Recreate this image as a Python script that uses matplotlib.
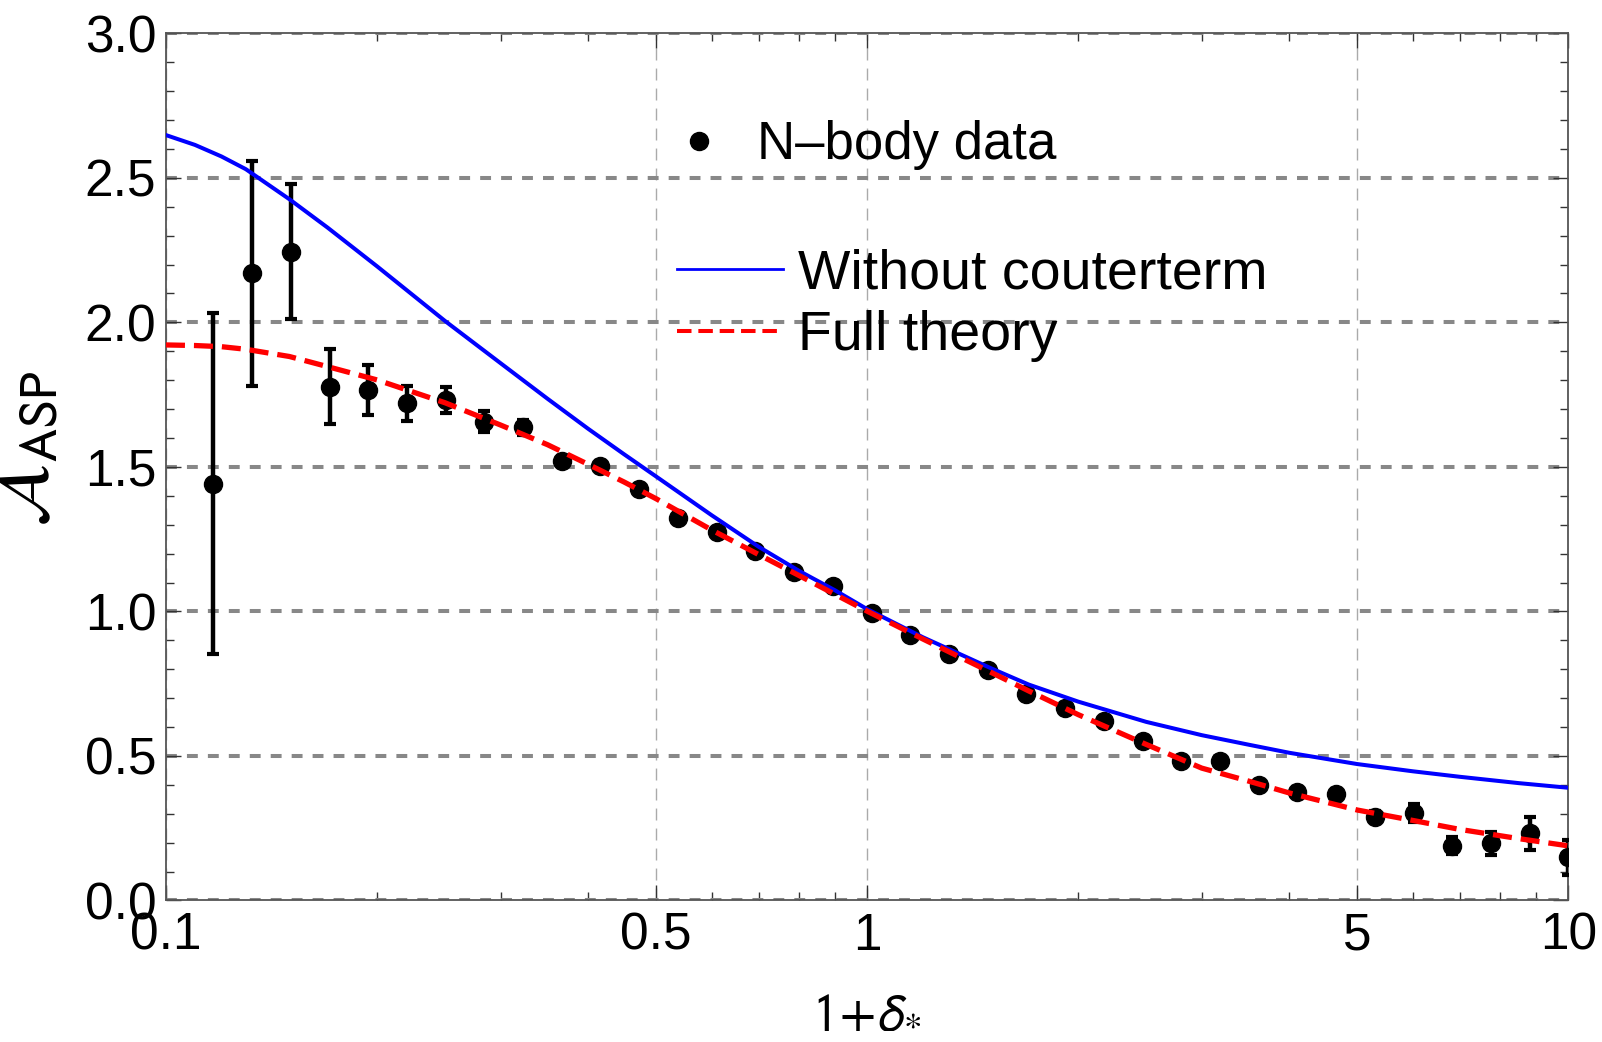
import matplotlib
matplotlib.use("Agg")
import matplotlib.pyplot as plt
from matplotlib.lines import Line2D
from matplotlib.ticker import NullFormatter

plt.rcParams['font.family'] = ['Liberation Sans', 'DejaVu Sans']

# N-body measurements of the response, with 1-sigma errors
nbody_x = [0.1168, 0.1327, 0.1506, 0.1711, 0.1942, 0.2206, 0.2505, 0.2844, 0.3229,
           0.3668, 0.4165, 0.4730, 0.5371, 0.6099, 0.6926, 0.7866, 0.8932, 1.0144,
           1.152, 1.308, 1.485, 1.687, 1.915, 2.175, 2.470, 2.805, 3.185, 3.617,
           4.108, 4.665, 5.297, 6.015, 6.832, 7.758, 8.810, 10.0]
nbody_y = [1.442, 2.170, 2.245, 1.777, 1.767, 1.720, 1.732, 1.657, 1.637,
           1.520, 1.503, 1.423, 1.325, 1.276, 1.209, 1.136, 1.088, 0.994,
           0.919, 0.852, 0.798, 0.713, 0.667, 0.621, 0.552, 0.483, 0.481, 0.400,
           0.377, 0.368, 0.290, 0.302, 0.190, 0.198, 0.232, 0.149]
nbody_err = [0.59, 0.39, 0.233, 0.13, 0.087, 0.061, 0.046, 0.035, 0.026,
             0.018, 0.016, 0.015, 0.014, 0.013, 0.012, 0.012, 0.012, 0.012,
             0.012, 0.012, 0.012, 0.012, 0.012, 0.012, 0.012, 0.012, 0.013, 0.015,
             0.016, 0.018, 0.02, 0.031, 0.03, 0.04, 0.057, 0.062]

# theory predictions
curve_x = [0.1, 0.11, 0.12, 0.13, 0.15, 0.17, 0.2, 0.25, 0.3, 0.35, 0.4, 0.45, 0.5,
           0.6, 0.7, 0.8, 0.9, 1.0, 1.2, 1.5, 1.7, 2.0, 2.5, 3.0, 3.5, 4.0, 5.0,
           6.0, 7.0, 8.5, 10.0]
no_counterterm = [2.648, 2.614, 2.574, 2.530, 2.426, 2.328, 2.194, 2.005, 1.859,
                  1.736, 1.632, 1.544, 1.467, 1.333, 1.224, 1.140, 1.073, 1.008,
                  0.911, 0.804, 0.747, 0.688, 0.618, 0.572, 0.539, 0.511, 0.472,
                  0.447, 0.428, 0.406, 0.390]
full_theory = [1.922, 1.920, 1.916, 1.907, 1.882, 1.847, 1.801, 1.722, 1.645,
               1.577, 1.509, 1.448, 1.390, 1.282, 1.197, 1.124, 1.059, 1.001,
               0.905, 0.790, 0.725, 0.643, 0.540, 0.458, 0.413, 0.372, 0.313,
               0.277, 0.246, 0.214, 0.189]

x_major = [0.1, 0.5, 1, 5, 10]
x_major_labels = ["0.1", "0.5", "1", "5", "10"]
x_minor = [0.2, 0.3, 0.4, 0.6, 0.7, 0.8, 0.9, 2, 3, 4, 6, 7, 8, 9]
y_major = [0.0, 0.5, 1.0, 1.5, 2.0, 2.5, 3.0]
y_minor = [i / 10 for i in range(31)]

fig = plt.figure(figsize=(16.02, 10.42), dpi=100)
ax = fig.add_axes([0.1036, 0.1358, 0.8754, 0.8322])

ax.errorbar(nbody_x, nbody_y, yerr=nbody_err, fmt='o', color='black', ms=13,
            elinewidth=3.2, capsize=4.3, capthick=3.0, zorder=3)
ax.plot(curve_x, no_counterterm, color='#0000ff', lw=2.9, zorder=4)
ax.plot(curve_x, full_theory, color='#ff0000', lw=3.8, ls=(0, (3.6, 1.7)), zorder=5)

ax.set_xscale('log')
ax.set_xlim(0.1, 10)
ax.set_ylim(0, 3)
ax.set_xticks(x_major, x_major_labels)
ax.set_xticks(x_minor, minor=True)
ax.xaxis.set_minor_formatter(NullFormatter())
ax.set_yticks(y_major, ["%.1f" % v for v in y_major])
ax.set_yticks(y_minor, minor=True)

ax.grid(axis='y', which='major', color='#888888', lw=2.9, ls=(0, (2.7, 2.5)))
ax.grid(axis='x', which='major', color='#aaaaaa', lw=1.0, ls=(0, (8.6, 5.8)))
ax.set_axisbelow(True)

ax.tick_params(which='both', direction='in', top=True, right=True,
               color='#333333', width=1.0, labelsize=37)
ax.tick_params(which='major', length=10.8)
ax.tick_params(which='minor', length=6)
ax.tick_params(axis='x', pad=8)
ax.tick_params(axis='y', pad=7)
for s in ax.spines.values():
    s.set_color('#555555')
    s.set_linewidth(1.3)

ax.set_xlabel(r"$1\!+\!\delta_{*}$", fontsize=38, math_fontfamily='stixsans')
ax.xaxis.set_label_coords(0.5, -0.1)
ax.set_ylabel(r"$\mathcal{A}_{\mathrm{ASP}}$", fontsize=54, math_fontfamily='stixsans')
ax.yaxis.set_label_coords(-0.074, 0.521)

data_handle = Line2D([], [], ls='none', marker='o', color='black', ms=13)
leg1 = ax.legend([data_handle], ["N\u2013body data"], loc='center left',
                 bbox_to_anchor=(0.3633, 0.871), frameon=False, fontsize=38,
                 handlelength=0.9, handletextpad=0.64, borderpad=0, borderaxespad=0)
ax.add_artist(leg1)

blue_handle = Line2D([], [], color='#0000ff', lw=2.0)
red_handle = Line2D([], [], color='#ff0000', lw=2.9, ls=(0, (3.6, 1.7)))
ax.legend([blue_handle, red_handle], ["Without couterterm", "Full theory"],
          loc='center left', bbox_to_anchor=(0.3644, 0.686), frameon=False,
          fontsize=40, handlelength=1.91, handletextpad=0.27, labelspacing=0.17,
          borderpad=0, borderaxespad=0)

fig.savefig("out.png", dpi=100)
